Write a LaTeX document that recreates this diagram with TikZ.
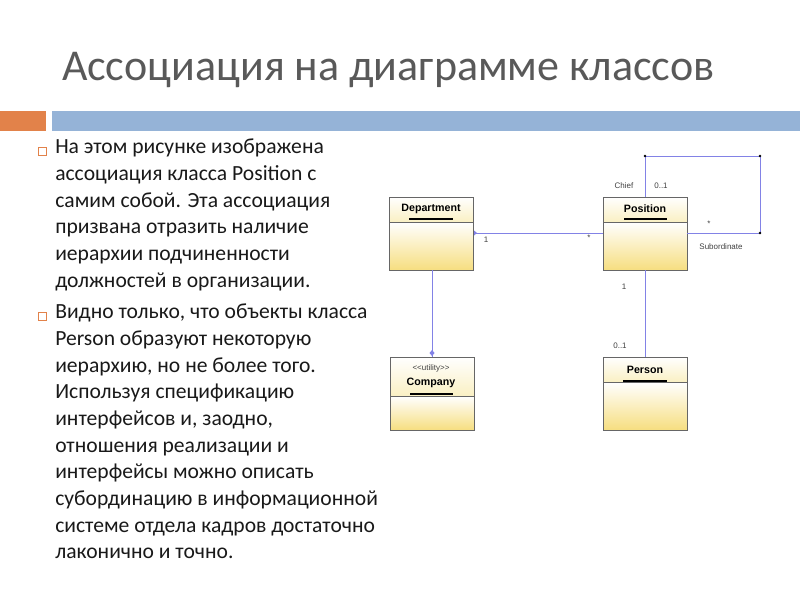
\documentclass[tikz,border=0pt]{standalone}
\usepackage{fontspec}
\setmainfont{Carlito}
\setsansfont{Liberation Sans}
\definecolor{bx}{RGB}{246,222,128}
\definecolor{hd}{RGB}{250,240,195}
\definecolor{barb}{RGB}{149,179,215}
\definecolor{baro}{RGB}{226,130,74}
\definecolor{lk}{RGB}{130,130,230}
\begin{document}
\begin{tikzpicture}[x=0.75pt,y=-0.75pt,
  uml/.style={draw=black!60,line width=0.5pt,top color=white,bottom color=bx},
  head/.style={draw=black!60,line width=0.5pt,top color=white,bottom color=hd},
  lnk/.style={draw=lk,line width=0.7pt},
  lbl/.style={font=\sffamily\fontsize{6}{7}\selectfont,text=black!75,inner sep=0pt},
  cname/.style={font=\sffamily\bfseries\fontsize{8}{9}\selectfont,inner sep=0pt},
  txt/.style={font=\fontsize{16.2}{20}\selectfont,align=left,anchor=north west,inner sep=0pt,text=black!90},
  bul/.style={draw=baro,line width=0.6pt,minimum size=6pt,inner sep=0pt}]
\useasboundingbox (0,0) rectangle (800,600);
\node[font=\fontsize{33}{38}\selectfont,text=black!65,anchor=base west,inner sep=0pt] (title) at (62,80) {Ассоциация на диаграмме классов};
\fill[baro] (0,111) rectangle (46,131);
\fill[barb] (52,111) rectangle (800,131);
\node[bul] (b1) at (42,151) {};
\node[bul] (b2) at (42,316) {};
\node[txt] (t1) at (55,139) {На этом рисунке изображена\\ассоциация класса Position с\\самим собой. Эта ассоциация\\призвана отразить наличие\\иерархии подчиненности\\должностей в организации.};
\node[txt] (t2) at (55,304) {Видно только, что объекты класса\\Person образуют некоторую\\иерархию, но не более того.\\Используя спецификацию\\интерфейсов и, заодно,\\отношения реализации и\\интерфейсы можно описать\\субординацию в информационной\\системе отдела кадров достаточно\\лаконично и точно.};
% classes
\foreach \n/\x/\y/\s in {dep/389/197/222, pos/603/197/222, com/390/357/396, per/603/357/382}{
  \path[uml] (\x,\s) rectangle ++(84,{\y+73-\s});
  \path[head] (\x,\y) rectangle (\x+84,\s);
  \coordinate (\n) at (\x+42,{\y+36});
}
\node[cname] (depn) at (431,209) {Department};
\draw[line width=1pt] (409,219) -- (453,219);
\node[cname] (posn) at (645,209) {Position};
\draw[line width=1pt] (624,219) -- (667,219);
\node[lbl] (st) at (431,368) {<{}<utility>{}>};
\node[cname] (comn) at (431,383) {Company};
\draw[line width=1pt] (410,394) -- (453,394);
\node[cname] (pern) at (645,370) {Person};
\draw[line width=1pt] (623,381) -- (667,381);
% links
\coordinate (dr) at (474,233); \coordinate (pl) at (603,233);
\draw[lnk] (dr) -- (pl);
\fill[lk] (dr) ++(0,-2.5) -- ++(3,2.5) -- ++(-3,2.5) -- cycle;
\coordinate (db) at (432,270); \coordinate (ct) at (432,357);
\draw[lnk] (db) -- (ct);
\fill[lk] (432,350) -- ++(2.5,3) -- ++(-2.5,3) -- ++(-2.5,-3) -- cycle;
\coordinate (pb) at (645,270); \coordinate (pt) at (645,357);
\draw[lnk] (pb) -- (pt);
\coordinate (p1) at (645,197); \coordinate (c1) at (645,156); \coordinate (c2) at (760,156);
\coordinate (c3) at (760,233); \coordinate (pr) at (687,233);
\draw[lnk] (p1) -- (c1) -- (c2) -- (c3) -- (pr);
\foreach \c in {c1,c2,c3} \fill (\c) circle (1.3);
\node[lbl] (l1) at (624,186) {Chief};
\node[lbl] (l2) at (661,186) {0..1};
\node[lbl] (l3) at (709,224) {*};
\node[lbl] (l4) at (721,247) {Subordinate};
\node[lbl] (l5) at (486,240) {1};
\node[lbl] (l6) at (589,238) {*};
\node[lbl] (l7) at (624,287) {1};
\node[lbl] (l8) at (620,346) {0..1};
\end{tikzpicture}
\end{document}
